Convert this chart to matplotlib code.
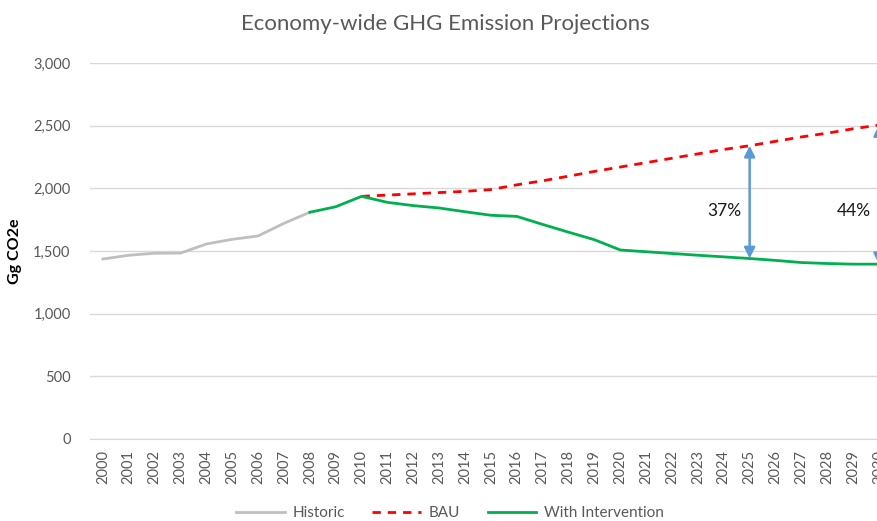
import matplotlib.pyplot as plt
import numpy as np

plt.rcParams['font.family'] = ['Lato', 'DejaVu Sans']

years = list(range(2000, 2031))

hist_years = list(range(2000, 2009))
historic = [1436, 1466, 1482, 1483, 1556, 1593, 1620, 1721, 1809]

bau_years = list(range(2010, 2031))
bau = [1936, 1946, 1956, 1966, 1976, 1990, 2028, 2060, 2097, 2135, 2170,
       2205, 2240, 2275, 2310, 2340, 2375, 2410, 2440, 2475, 2505]

int_years = list(range(2008, 2031))
intervention = [1809, 1853, 1936, 1888, 1862, 1843, 1813, 1785, 1776, 1712,
                1650, 1590, 1508, 1494, 1480, 1466, 1453, 1440, 1425, 1408,
                1400, 1395, 1395]

gaps = [(2025, 2340, 1440, "37%"), (2030, 2505, 1395, "44%")]

fig = plt.figure(figsize=(8.77, 5.21), dpi=100)
ax = fig.add_axes([0.1026, 0.1574, 0.9144, 0.7217])

ax.plot(hist_years, historic, color='#BFBFBF', lw=2, label='Historic', zorder=3)
ax.plot(bau_years, bau, color='#FF0000', lw=2, ls=(0, (3, 2.5)), label='BAU', zorder=3)
ax.plot(int_years, intervention, color='#00B050', lw=2, label='With Intervention', zorder=3)

for yr, top, bottom, txt in gaps:
    ax.annotate('', xy=(yr, top), xytext=(yr, bottom),
                arrowprops=dict(arrowstyle='<|-|>', color='#5B9BD5', lw=1.8,
                                mutation_scale=16, shrinkA=0, shrinkB=0), zorder=4)
    ax.text(yr - 0.3, 1820, txt, ha='right', va='center', fontsize=12.5, color='#1a1a1a')

ax.set_xlim(1999.5, 2030.5)
ax.set_ylim(0, 3000)
ax.set_yticks(np.arange(0, 3001, 500))
ax.set_yticklabels([f'{v:,}' for v in range(0, 3001, 500)])
ax.set_xticks(years)
ax.set_xticklabels([str(y) for y in years], rotation=90)
ax.tick_params(axis='both', length=0, labelsize=10.5, labelcolor='#595959')
ax.tick_params(axis='x', pad=8)
ax.tick_params(axis='y', pad=14)
ax.grid(axis='y', color='#D9D9D9', lw=1)
ax.set_axisbelow(True)
for s in ['top', 'right', 'left']:
    ax.spines[s].set_visible(False)
ax.spines['bottom'].set_color('#D9D9D9')

ax.set_ylabel('Gg CO2e', fontsize=11.5, fontweight='bold', labelpad=8)
fig.text(0.508, 0.953, 'Economy-wide GHG Emission Projections', ha='center', va='center',
         fontsize=16, color='#595959')

fig.legend(loc='center', bbox_to_anchor=(0.513, 0.015), ncol=3, frameon=False,
           fontsize=11, labelcolor='#595959', handlelength=3.2, handletextpad=0.5,
           columnspacing=1.8)

fig.savefig('out.png', dpi=100)
